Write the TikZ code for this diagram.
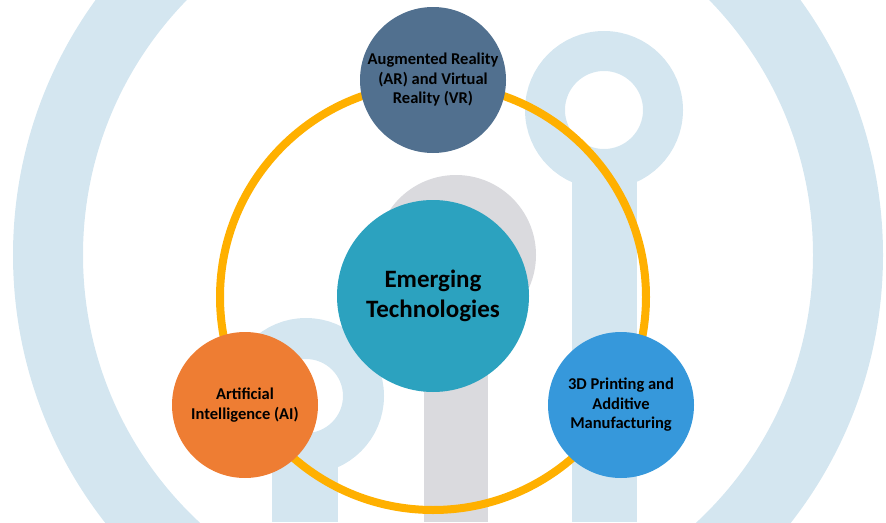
\documentclass[tikz,border=0pt]{standalone}
\usepackage{fontspec}
\setmainfont{Carlito}
\definecolor{wmblue}{HTML}{D4E6F0}
\definecolor{wmgray}{HTML}{DADADE}
\definecolor{ringorange}{HTML}{FFB000}
\definecolor{arcol}{HTML}{51708F}
\definecolor{tealcol}{HTML}{2CA2BF}
\definecolor{aicol}{HTML}{EE7D33}
\definecolor{printcol}{HTML}{3698DB}
\begin{document}
\begin{tikzpicture}[x=1pt,y=-1pt,
  wm/.style={fill=wmblue},
  techbox/.style={circle,inner sep=0pt,minimum size=146pt,align=center,
    font=\bfseries\fontsize{16.5}{19.5}\selectfont,text=black},
  hubbox/.style={circle,inner sep=0pt,minimum size=192pt,align=center,fill=tealcol,
    font=\bfseries\fontsize{25}{29.5}\selectfont,text=black},
  ringline/.style={draw=ringorange,line width=8pt}]
\useasboundingbox (0,0) rectangle (886,522);
\clip (0,0) rectangle (886,522);
% watermark
\draw[draw=wmblue,line width=70pt] (448,255) circle (400pt);
\draw[draw=wmblue,line width=40pt] (604,110) circle (59pt);
\fill[wm] (572,160) rectangle (637,522);
\draw[draw=wmblue,line width=41pt] (306,396) circle (57.5pt);
\fill[wm] (272,440) rectangle (338,522);
\fill[wmgray] (456,255) circle (80pt);
\fill[wmgray] (424,255) rectangle (488,522);
% diagram
\coordinate (hubc) at (433,297);
\draw[ringline] (hubc) circle (213pt);
\node[hubbox] (hub) at (433,296) {Emerging\\Technologies};
\node[techbox,fill=arcol] (ar) at (433,80) {Augmented Reality\\(AR) and Virtual\\Reality (VR)};
\node[techbox,fill=aicol] (ai) at (245,405) {Artificial\\Intelligence (AI)};
\node[techbox,fill=printcol] (print) at (621,405) {3D Printing and\\Additive\\Manufacturing};
\end{tikzpicture}
\end{document}
